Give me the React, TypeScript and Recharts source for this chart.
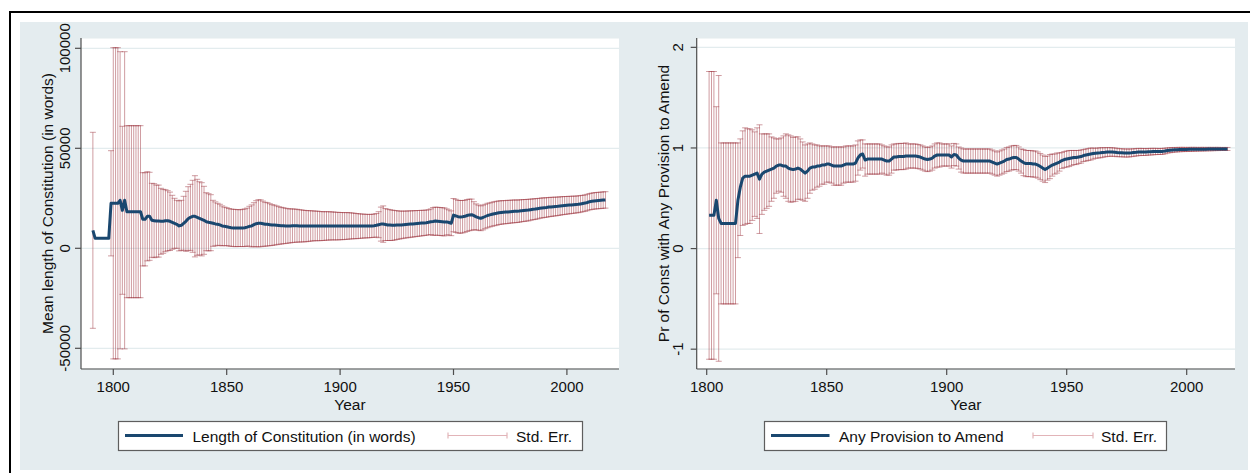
import React from 'react';
import { ComposedChart, Line, ErrorBar, XAxis, YAxis, CartesianGrid } from 'recharts';

// ---- Data: mean constitution length (words) and its standard-error half width, by year ----
const LENGTH_FIRST_YEAR = 1791;
const lengthMean: number[] = [
  9000, 5000, 5000, 5000, 5000, 5000, 5000, 5000, 22500, // 1791-1799
  22500, 22500, 22500, 24000, 19000, 24000, 18300, 18300, 18300, 18300,
  18300, 18300, 18300, 14500, 14500, 16000, 16000, 14000, 13800, 13600,
  13600, 13500, 13500, 13800, 13800, 13500, 13000, 12500, 12000, 11200,
  11500, 12500, 13500, 14800, 15500, 16000, 16000, 15500, 15000, 14500,
  14000, 13300, 13000, 12800, 12500, 12200, 12000, 11700, 11200, 11000,
  10800, 10500, 10300, 10200, 10100, 10100, 10100, 10150, 10300, 10600,
  11000, 11200, 11800, 12300, 12500, 12500, 12300, 12000, 12000, 11800,
  11600, 11600, 11500, 11400, 11300, 11300, 11200, 11200, 11200, 11300,
  11300, 11300, 11200, 11200, 11100, 11100, 11100, 11200, 11200, 11200,
  11200, 11100, 11100, 11100, 11200, 11200, 11200, 11200, 11100, 11100,
  11100, 11100, 11100, 11200, 11200, 11200, 11200, 11100, 11100, 11100,
  11100, 11100, 11100, 11100, 11200, 11300, 11500, 11800, 12100, 12100,
  11900, 11700, 11600, 11500, 11500, 11600, 11600, 11700, 11800, 11900,
  12000, 12100, 12200, 12300, 12400, 12500, 12600, 12700, 12800, 13000,
  13300, 13400, 13600, 13500, 13400, 13300, 13200, 13200, 12900, 12500,
  16600, 16200, 15800, 15700, 15800, 16000, 16400, 16700, 16800, 16300,
  15700, 15300, 15000, 15400, 15900, 16400, 16700, 17000, 17300, 17500,
  17800, 17900, 18000, 18100, 18200, 18300, 18400, 18500, 18500, 18600,
  18800, 18900, 19000, 19100, 19300, 19500, 19600, 19800, 20000, 20200,
  20300, 20400, 20600, 20700, 20800, 20900, 21000, 21150, 21300, 21400,
  21500, 21600, 21700, 21800, 21900, 22000, 22200, 22400, 22600, 22900,
  23300, 23500, 23700, 23800, 23900, 24000, 24100, 24200, // 2010-2017
];
const lengthErr: (number | null)[] = [
  49000, null, null, null, null, null, null, null, 26300, // 1791-1799
  77800, 77800, 77800, 74300, 42000, 74300, 43000, 43000, 43000, 43000,
  43000, 43000, 43000, 23300, 23300, 22300, 22000, 18500, 18500, 18000,
  18000, 16500, 16000, 15500, 15000, 14600, 13500, 12500, 12000, 12500,
  12500, 13500, 15000, 16000, 16500, 18000, 20300, 19000, 18300, 18300,
  17000, 14500, 14300, 14000, 11500, 11000, 10500, 10300, 10000, 9600,
  9500, 9400, 9300, 9300, 9300, 9200, 9200, 9300, 9400, 9500,
  10000, 10500, 11000, 11500, 11800, 11700, 11300, 11000, 10800, 10500,
  10200, 10000, 9700, 9400, 9200, 9000, 8800, 8600, 8500, 8400,
  8300, 8200, 8100, 8000, 7900, 7800, 7700, 7600, 7500, 7400,
  7400, 7300, 7200, 7200, 7100, 7100, 7000, 7000, 6900, 6900,
  6800, 6800, 6700, 6700, 6600, 6500, 6400, 6300, 6200, 6100,
  6000, 5900, 5900, 5800, 5800, 5800, 5900, 6500, 8500, 9100,
  8000, 7800, 7700, 7600, 7400, 7200, 7000, 6900, 6800, 6700,
  6700, 6600, 6600, 6500, 6500, 6400, 6400, 6300, 6300, 6300,
  6400, 7000, 7000, 7000, 7000, 7000, 7000, 6500, 6300, 6200,
  8300, 8300, 8200, 8200, 8100, 8000, 8000, 7900, 7800, 7000,
  6500, 6300, 6200, 6200, 6100, 6100, 6000, 6000, 6000, 6000,
  5900, 5900, 5800, 5800, 5800, 5700, 5700, 5700, 5600, 5600,
  5500, 5500, 5400, 5400, 5300, 5200, 5200, 5100, 5000, 5000,
  4900, 4900, 4800, 4800, 4700, 4700, 4600, 4600, 4500, 4500,
  4400, 4400, 4300, 4300, 4200, 4200, 4200, 4100, 4100, 4100,
  4100, 4100, 4100, 4100, 4100, 4100, 4100, 4100, // 2010-2017
];

// ---- Data: share of constitutions with an amendment provision, by year ----
const AMEND_FIRST_YEAR = 1801;
const amendMean: number[] = [
  0.33, 0.33, 0.33, 0.48, 0.3, 0.25, 0.25, 0.25, 0.25, // 1801-1809
  0.25, 0.25, 0.25, 0.48, 0.61, 0.7, 0.72, 0.72, 0.72, 0.73,
  0.74, 0.75, 0.69, 0.74, 0.76, 0.77, 0.78, 0.79, 0.8, 0.82,
  0.83, 0.83, 0.82, 0.82, 0.8, 0.79, 0.785, 0.79, 0.8, 0.79,
  0.77, 0.75, 0.77, 0.8, 0.81, 0.81, 0.82, 0.82, 0.83, 0.83,
  0.84, 0.84, 0.83, 0.82, 0.82, 0.82, 0.82, 0.83, 0.84, 0.84,
  0.84, 0.84, 0.85, 0.9, 0.93, 0.94, 0.88, 0.89, 0.89, 0.89,
  0.89, 0.89, 0.89, 0.89, 0.88, 0.87, 0.87, 0.89, 0.91, 0.91,
  0.915, 0.915, 0.915, 0.92, 0.92, 0.92, 0.92, 0.92, 0.915, 0.91,
  0.9, 0.89, 0.885, 0.89, 0.9, 0.92, 0.93, 0.93, 0.93, 0.93,
  0.93, 0.93, 0.91, 0.935, 0.93, 0.9, 0.88, 0.87, 0.87, 0.87,
  0.87, 0.87, 0.87, 0.87, 0.87, 0.87, 0.87, 0.87, 0.87, 0.86,
  0.85, 0.84, 0.85, 0.86, 0.87, 0.885, 0.89, 0.9, 0.905, 0.905,
  0.89, 0.87, 0.855, 0.845, 0.845, 0.845, 0.84, 0.84, 0.83, 0.815,
  0.8, 0.786, 0.8, 0.815, 0.83, 0.84, 0.85, 0.86, 0.875, 0.885,
  0.89, 0.895, 0.9, 0.905, 0.905, 0.91, 0.915, 0.925, 0.93, 0.935,
  0.94, 0.944, 0.947, 0.95, 0.952, 0.955, 0.957, 0.96, 0.96, 0.96,
  0.958, 0.955, 0.953, 0.952, 0.95, 0.95, 0.95, 0.952, 0.955, 0.957,
  0.96, 0.96, 0.96, 0.96, 0.962, 0.963, 0.964, 0.965, 0.965, 0.965,
  0.966, 0.97, 0.975, 0.978, 0.98, 0.982, 0.983, 0.984, 0.985, 0.985,
  0.985, 0.986, 0.986, 0.987, 0.987, 0.987, 0.988, 0.988, 0.988, 0.989,
  0.989, 0.989, 0.99, 0.99, 0.99, 0.99, 0.99, 0.99, // 2010-2017
];
const amendErr: (number | null)[] = [
  1.43, 1.43, 1.43, 0.93, 1.42, 0.8, 0.8, 0.8, 0.8, // 1801-1809
  0.8, 0.8, 0.8, 0.57, 0.48, 0.47, 0.48, 0.47, 0.47, 0.45,
  0.42, 0.45, 0.54, 0.4, 0.38, 0.37, 0.36, 0.32, 0.3, 0.27,
  0.26, 0.27, 0.3, 0.32, 0.33, 0.33, 0.32, 0.32, 0.31, 0.3,
  0.29, 0.28, 0.27, 0.25, 0.23, 0.22, 0.21, 0.2, 0.19, 0.19,
  0.18, 0.18, 0.18, 0.19, 0.19, 0.19, 0.19, 0.18, 0.18, 0.18,
  0.18, 0.18, 0.18, 0.17, 0.15, 0.14, 0.16, 0.15, 0.15, 0.15,
  0.15, 0.15, 0.15, 0.14, 0.14, 0.14, 0.14, 0.14, 0.13, 0.13,
  0.13, 0.13, 0.13, 0.13, 0.12, 0.12, 0.12, 0.12, 0.12, 0.12,
  0.12, 0.12, 0.12, 0.12, 0.12, 0.12, 0.12, 0.12, 0.11, 0.11,
  0.11, 0.11, 0.11, 0.11, 0.11, 0.11, 0.12, 0.12, 0.12, 0.12,
  0.12, 0.12, 0.12, 0.12, 0.12, 0.12, 0.12, 0.12, 0.12, 0.12,
  0.12, 0.12, 0.12, 0.12, 0.12, 0.12, 0.12, 0.12, 0.12, 0.12,
  0.12, 0.12, 0.13, 0.13, 0.13, 0.13, 0.13, 0.13, 0.13, 0.13,
  0.13, 0.13, 0.12, 0.12, 0.11, 0.1, 0.1, 0.09, 0.08, 0.08,
  0.08, 0.08, 0.075, 0.07, 0.07, 0.065, 0.065, 0.06, 0.06, 0.06,
  0.06, 0.055, 0.05, 0.05, 0.05, 0.048, 0.045, 0.044, 0.043, 0.042,
  0.042, 0.042, 0.04, 0.04, 0.04, 0.04, 0.04, 0.038, 0.038, 0.037,
  0.036, 0.035, 0.035, 0.034, 0.033, 0.033, 0.032, 0.031, 0.03, 0.03,
  0.03, 0.028, 0.026, 0.025, 0.024, 0.023, 0.022, 0.022, 0.021, 0.021,
  0.02, 0.02, 0.02, 0.019, 0.019, 0.018, 0.018, 0.018, 0.017, 0.017,
  0.017, 0.016, 0.016, 0.016, 0.015, 0.015, 0.015, 0.015, // 2010-2017
];

// ---- Axis ticks and legend labels ----
const yearTicks = [1800, 1850, 1900, 1950, 2000];
const lengthTicks = [-50000, 0, 50000, 100000];
const amendTicks = [-1, 0, 1, 2];
const lengthTitle = 'Mean length of Constitution (in words)';
const amendTitle = 'Pr of Const with Any Provision to Amend';
const lengthLegend = 'Length of Constitution (in words)';
const amendLegend = 'Any Provision to Amend';
const errLegend = 'Std. Err.';

// ---- Styling ----
const FONT = '"Liberation Sans", Arial, Helvetica, sans-serif';
const NAVY = '#1a476f';
const MAROON = '#a23c46';
const PINK = '#e2b4b8';
const AXIS = '#4d4d4d';
const GRID = '#e3ecee';
const REGION = '#e4ecef';
const TEXT = '#111111';

type Row = { year: number; mean: number; err: number | null };

function buildRows(first: number, mean: number[], err: (number | null)[]): Row[] {
  return mean.map((m, i) => ({ year: first + i, mean: m, err: err[i] }));
}

const lengthRows = buildRows(LENGTH_FIRST_YEAR, lengthMean, lengthErr);
const amendRows = buildRows(AMEND_FIRST_YEAR, amendMean, amendErr);

type PanelProps = {
  rows: Row[];
  left: number;
  width: number;
  marginLeft: number;
  marginRight: number;
  xDomain: [number, number];
  yDomain: [number, number];
  yTicks: number[];
  yTitle: string;
  tickBaselineGap: number;
  titleBaselineGap: number;
};

function Panel(p: PanelProps) {
  const rotatedTick = (props: any) => {
    const { y, payload } = props;
    const axisX = p.marginLeft + 60;
    const bx = axisX - p.tickBaselineGap;
    return (
      <text
        x={bx}
        y={y}
        transform={`rotate(-90, ${bx}, ${y})`}
        textAnchor="middle"
        fill={TEXT}
        fontSize={15}
        fontFamily={FONT}
      >
        {String(payload.value)}
      </text>
    );
  };

  const yLabel = (props: any) => {
    const vb = props.viewBox || {};
    const axisX = (vb.x ?? p.marginLeft) + (vb.width ?? 60);
    const bx = axisX - p.titleBaselineGap;
    const cy = (vb.y ?? 38) + (vb.height ?? 331) / 2;
    return (
      <text
        x={bx}
        y={cy}
        transform={`rotate(-90, ${bx}, ${cy})`}
        textAnchor="middle"
        fill={TEXT}
        fontSize={15.5}
        fontFamily={FONT}
      >
        {p.yTitle}
      </text>
    );
  };

  const xLabel = (props: any) => {
    const vb = props.viewBox || {};
    const cx = (vb.x ?? 0) + (vb.width ?? 0) / 2;
    const by = (vb.y ?? 369) + 40.5;
    return (
      <text x={cx} y={by} textAnchor="middle" fill={TEXT} fontSize={15.5} fontFamily={FONT}>
        Year
      </text>
    );
  };

  return (
    <div style={{ position: 'absolute', left: p.left, top: 0 }}>
      <ComposedChart
        width={p.width}
        height={473}
        data={p.rows}
        margin={{ top: 38, right: p.marginRight, bottom: 74, left: p.marginLeft }}
      >
        <CartesianGrid vertical={false} fill="#ffffff" stroke={GRID} strokeWidth={1.2} />
        <XAxis
          type="number"
          dataKey="year"
          domain={p.xDomain}
          ticks={yearTicks}
          allowDataOverflow
          height={30}
          tickSize={6}
          tickMargin={6}
          axisLine={{ stroke: AXIS, strokeWidth: 1.2 }}
          tickLine={{ stroke: AXIS, strokeWidth: 1.2 }}
          tick={{ fill: TEXT, fontSize: 15, fontFamily: FONT }}
          label={xLabel}
        />
        <YAxis
          type="number"
          domain={p.yDomain}
          ticks={p.yTicks}
          allowDataOverflow
          width={60}
          tickSize={6}
          tickMargin={0}
          axisLine={{ stroke: AXIS, strokeWidth: 1.2 }}
          tickLine={{ stroke: AXIS, strokeWidth: 1.2 }}
          tick={rotatedTick}
          label={yLabel}
        />
        {/* standard-error caps, drawn beneath the mean line */}
        <Line
          dataKey="mean"
          stroke="none"
          dot={false}
          activeDot={false}
          legendType="none"
          isAnimationActive={false}
        >
          <ErrorBar
            dataKey="err"
            width={3}
            stroke={MAROON}
            strokeWidth={1}
            strokeOpacity={0.5}
            isAnimationActive={false}
          />
        </Line>
        <Line
          dataKey="mean"
          stroke={NAVY}
          strokeWidth={3}
          strokeLinejoin="round"
          dot={false}
          activeDot={false}
          isAnimationActive={false}
        />
      </ComposedChart>
    </div>
  );
}

function LegendBox({ x, w, label, lineEnd, textX, capStart, capEnd, errX }: {
  x: number; w: number; label: string; lineEnd: number; textX: number;
  capStart: number; capEnd: number; errX: number;
}) {
  const cy = 435.5;
  return (
    <g>
      <rect x={x + 0.5} y={421.5} width={w} height={29} fill="#ffffff" stroke="#5e5e5e" strokeWidth={1.2} />
      <line x1={x + 7} y1={cy} x2={lineEnd} y2={cy} stroke={NAVY} strokeWidth={3} />
      <text x={textX} y={441.5} fill={TEXT} fontSize={15.5} fontFamily={FONT}>{label}</text>
      <line x1={capStart} y1={cy} x2={capEnd} y2={cy} stroke={PINK} strokeWidth={1.2} />
      <line x1={capStart} y1={cy - 3} x2={capStart} y2={cy + 3} stroke={PINK} strokeWidth={1.2} />
      <line x1={capEnd} y1={cy - 3} x2={capEnd} y2={cy + 3} stroke={PINK} strokeWidth={1.2} />
      <text x={errX} y={441.5} fill={TEXT} fontSize={15.5} fontFamily={FONT}>{errLegend}</text>
    </g>
  );
}

export default function App() {
  return (
    <div
      style={{
        position: 'fixed',
        left: 0,
        top: 0,
        width: 1250,
        height: 473,
        background: '#ffffff',
        overflow: 'hidden',
        fontFamily: FONT,
      }}
    >
      {/* outer frame */}
      <div style={{ position: 'absolute', left: 9, top: 11, width: 1260, height: 480, borderLeft: '2px solid #000', borderTop: '2px solid #000' }} />
      {/* graph region */}
      <div style={{ position: 'absolute', left: 20, top: 22, width: 1228, height: 448, background: REGION }} />

      <Panel
        rows={lengthRows}
        left={0}
        width={630}
        marginLeft={21}
        marginRight={11}
        xDomain={[1785.76, 2022.97]}
        yDomain={[-60350, 105150]}
        yTicks={lengthTicks}
        yTitle={lengthTitle}
        tickBaselineGap={10.7}
        titleBaselineGap={28.5}
      />
      <Panel
        rows={amendRows}
        left={630}
        width={620}
        marginLeft={6.7}
        marginRight={15}
        xDomain={[1795.83, 2020.13]}
        yDomain={[-1.197, 2.093]}
        yTicks={amendTicks}
        yTitle={amendTitle}
        tickBaselineGap={13.5}
        titleBaselineGap={27.5}
      />

      <svg width={1250} height={473} style={{ position: 'absolute', left: 0, top: 0, pointerEvents: 'none' }}>
        <LegendBox x={118} w={464} label={lengthLegend} lineEnd={183} textX={192.5} capStart={448} capEnd={507} errX={516} />
        <LegendBox x={764} w={402} label={amendLegend} lineEnd={829.5} textX={839} capStart={1033} capEnd={1093} errX={1101} />
      </svg>
    </div>
  );
}
